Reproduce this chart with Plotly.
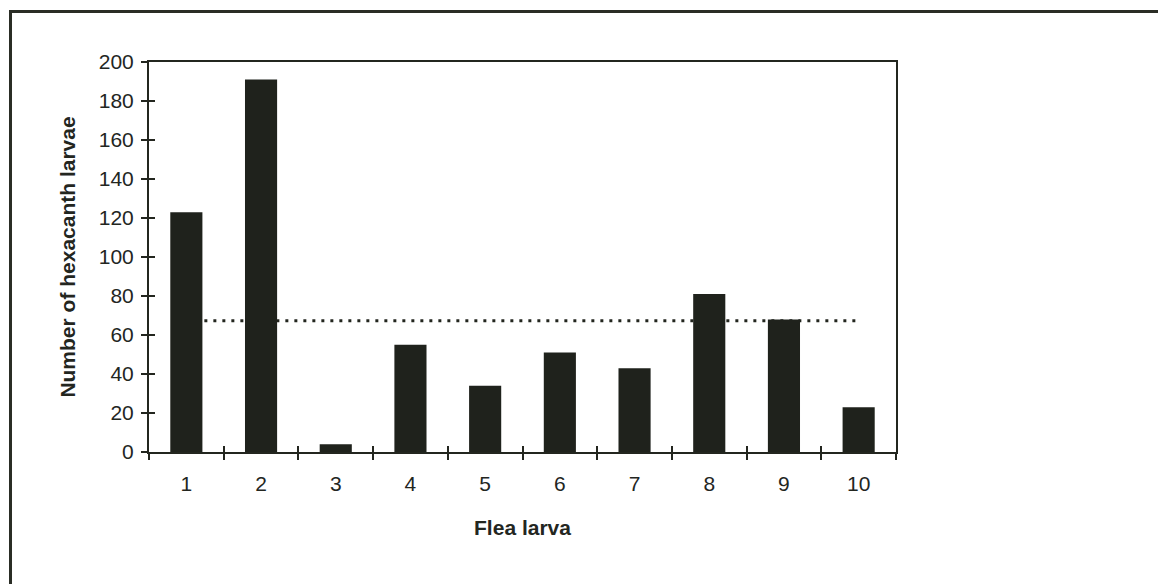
import plotly.graph_objects as go

# Hexacanth larvae counted in each flea larva
flea_larva = ["1", "2", "3", "4", "5", "6", "7", "8", "9", "10"]
hexacanth_counts = [123, 191, 4, 55, 34, 51, 43, 81, 68, 23]
y_ticks = [0, 20, 40, 60, 80, 100, 120, 140, 160, 180, 200]

mean_count = sum(hexacanth_counts) / len(hexacanth_counts)

INK = "#23261f"
FONT = "Liberation Sans, Arial, sans-serif"

fig = go.Figure()

# Mean line on the base subplot so the bars sit on top of it
fig.add_trace(go.Scatter(
    x=flea_larva,
    y=[mean_count] * len(flea_larva),
    mode="lines",
    line=dict(color=INK, width=2.8, dash="3px,6px"),
    xaxis="x", yaxis="y",
    hoverinfo="skip",
    showlegend=False,
))

fig.add_trace(go.Bar(
    x=flea_larva,
    y=hexacanth_counts,
    marker=dict(color="#1f221c", line=dict(width=0)),
    xaxis="x2", yaxis="y2",
    showlegend=False,
))

common_x = dict(type="category", categoryorder="array", categoryarray=flea_larva,
                range=[-0.5, len(flea_larva) - 0.5], tickson="boundaries")
common_y = dict(range=[0, 200], tickvals=y_ticks)

fig.update_layout(
    width=1158, height=584,
    margin=dict(l=149, r=262, t=62, b=132),
    paper_bgcolor="white", plot_bgcolor="white",
    font=dict(family=FONT, color=INK, size=21),
    bargap=0.57,
    xaxis=dict(
        **common_x,
        showgrid=False, zeroline=False,
        showline=True, linecolor=INK, linewidth=2, mirror=True,
        ticks="outside", ticklen=6, tickwidth=1.5, tickcolor=INK,
        tickfont=dict(size=21, family=FONT, color=INK),
        ticklabelstandoff=12,
        title=dict(text="<b>Flea larva</b>", font=dict(size=21, family=FONT, color=INK),
                   standoff=26),
    ),
    yaxis=dict(
        **common_y,
        showgrid=False, zeroline=False,
        showline=True, linecolor=INK, linewidth=2, mirror=True,
        ticks="outside", ticklen=6, tickwidth=1.5, tickcolor=INK,
        tickfont=dict(size=21, family=FONT, color=INK),
        ticklabelstandoff=3,
        title=dict(text="<b>Number of hexacanth larvae</b>",
                   font=dict(size=21, family=FONT, color=INK), standoff=17),
    ),
    # Overlay axes: carry the bars and the inner half of the crossing ticks
    xaxis2=dict(
        **common_x, overlaying="x", side="bottom",
        showgrid=False, zeroline=False, showline=False,
        ticks="inside", ticklen=6, tickwidth=1.5, tickcolor=INK,
        showticklabels=False,
    ),
    yaxis2=dict(
        **common_y, overlaying="y", side="left",
        showgrid=False, zeroline=False, showline=False,
        ticks="inside", ticklen=6, tickwidth=1.5, tickcolor=INK,
        showticklabels=False,
    ),
    shapes=[
        # Frame around the whole chart area
        dict(type="rect", xref="paper", yref="paper",
             x0=-0.1854, x1=1.37, y0=-0.345, y1=1.1295,
             line=dict(color="#2a2d25", width=3), fillcolor="rgba(0,0,0,0)",
             layer="below"),
    ],
)

fig.write_html("out.html")
